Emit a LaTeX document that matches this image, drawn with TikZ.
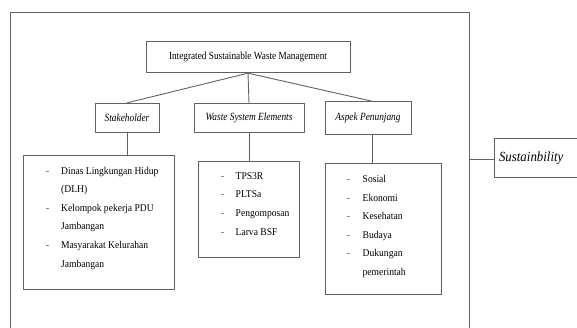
\documentclass[tikz,border=0pt]{standalone}
\usepackage{fontspec}
\setmainfont{Liberation Serif}
\newfontfamily\condA[FakeStretch=0.85]{Liberation Serif}
\newfontfamily\condB[FakeStretch=0.85]{Liberation Serif}
\newfontfamily\condC[FakeStretch=0.92]{Liberation Serif}
\begin{document}
\begin{tikzpicture}[x=1pt,y=-1pt,
  ln/.style={draw=black!62, line width=0.9pt},
  box/.style={ln, rectangle, inner sep=0pt, text=black},
  lbl/.style={box, font=\condB\fontsize{11}{13}\selectfont\itshape},
  itm/.style={anchor=base west, inner sep=0pt, text=black, font=\condC\fontsize{10.4}{12}\selectfont},
  bul/.style={draw=black!45, line width=0.6pt}]
\useasboundingbox (0,0) rectangle (577,327);
\clip (0,0) rectangle (577,327);
\fill[white] (0,0) rectangle (577,327);
% frame
\draw[ln] (10,330) -- (10,12.5) -- (469,12.5) -- (469,330);
\coordinate (fr) at (469,159);
% boxes
\node[box, minimum width=204pt, minimum height=31pt, font=\condA\fontsize{10.9}{12}\selectfont] (top) at (248,57.2) {Integrated Sustainable Waste Management};
\node[lbl, minimum width=64pt, minimum height=29.4pt] (stake) at (127,118) {Stakeholder};
\node[lbl, minimum width=110pt, minimum height=29.4pt] (wse) at (249,118) {Waste System Elements};
\node[lbl, minimum width=86pt, minimum height=32.3pt] (asp) at (368,117.8) {Aspek Penunjang};
\node[box, minimum width=151pt, minimum height=133.3pt] (l1) at (98.5,222.3) {};
\node[box, minimum width=101pt, minimum height=95.6pt] (l2) at (248.5,209.5) {};
\node[box, minimum width=116pt, minimum height=130.3pt] (l3) at (383,228.8) {};
\node[box, minimum width=90pt, minimum height=39pt, font=\condC\fontsize{14}{16}\selectfont\itshape, text width=80pt, align=left] (sus) at (539,157.7) {Sustainbility};
% list 1
\foreach \b/\t [count=\i] in {1/Dinas Lingkungan Hidup, 0/(DLH), 1/Kelompok pekerja PDU, 0/Jambangan, 1/Masyarakat Kelurahan, 0/Jambangan}{
  \pgfmathsetmacro{\yy}{174+18.6*(\i-1)}
  \node[itm] (a\i) at (61,\yy) {\t};
  \ifnum\b=1 \draw[bul] (46,\yy-3.2) -- (48.5,\yy-3.2); \fi
}
% list 2
\foreach \t [count=\i] in {TPS3R, PLTSa, Pengomposan, Larva BSF}{
  \pgfmathsetmacro{\yy}{179+18.9*(\i-1)}
  \node[itm] (b\i) at (235.5,\yy) {\t};
  \draw[bul] (221,\yy-3.2) -- (223.5,\yy-3.2);
}
% list 3
\foreach \b/\t [count=\i] in {1/Sosial, 1/Ekonomi, 1/Kesehatan, 1/Budaya, 1/Dukungan, 0/pemerintah}{
  \pgfmathsetmacro{\yy}{182.5+18.5*(\i-1)}
  \node[itm] (c\i) at (362.5,\yy) {\t};
  \ifnum\b=1 \draw[bul] (347,\yy-3.2) -- (349.5,\yy-3.2); \fi
}
% connectors
\draw[ln] (top.south) -- (stake.north);
\draw[ln] (top.south) -- (wse.north);
\draw[ln] (top.south) -- ([xshift=4pt]asp.north);
\draw[ln] (stake.south) -- (stake.south |- l1.north);
\draw[ln] (wse.south) -- (wse.south |- l2.north);
\draw[ln] ([xshift=4pt]asp.south) -- ([xshift=4pt]asp.south |- l3.north);
\draw[ln] (fr) -- (sus.west |- fr);
\end{tikzpicture}
\end{document}
